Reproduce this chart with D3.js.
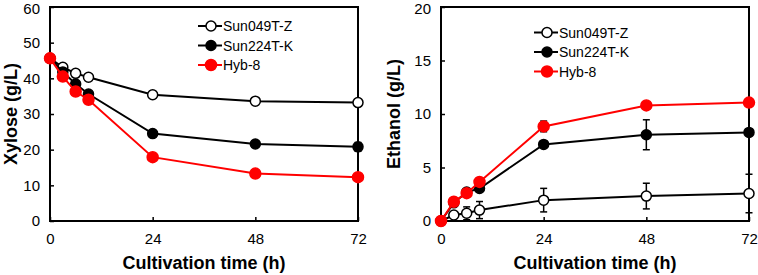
<!DOCTYPE html>
<html><head><meta charset="utf-8">
<script src="https://cdn.jsdelivr.net/npm/d3@7"></script>
<style>
html,body{margin:0;padding:0;background:#fff;}
svg{display:block;font-family:"Liberation Sans",Arial,sans-serif;}
</style></head>
<body><svg id="c" width="758" height="275"></svg>
<script>
const times = [0, 3, 6, 9, 24, 48, 72];
const seriesNames = ["Sun049T-Z", "Sun224T-K", "Hyb-8"];
const seriesColors = ["#000000", "#000000", "#ff0000"];
const seriesFills = ["#ffffff", "#000000", "#ff0000"];

const xyloseSun049 = [45.6, 43.1, 41.4, 40.3, 35.4, 33.6, 33.2];
const xyloseSun049Err = [0.3, 0.3, 0.8, 0.4, 1.0, 0.4, 0.4];
const xyloseSun224 = [45.6, 41.8, 38.4, 35.6, 24.5, 21.6, 20.8];
const xyloseSun224Err = [0.3, 0.3, 0.4, 0.5, 0.8, 0.8, 1.2];
const xyloseHyb8 = [45.6, 40.5, 36.3, 34.0, 17.9, 13.3, 12.3];
const xyloseHyb8Err = [0.3, 0.3, 0.3, 0.4, 0.3, 0.4, 0.3];

const ethanolSun049 = [0, 0.56, 0.72, 1.02, 1.95, 2.33, 2.57];
const ethanolSun049Err = [0, 0.1, 0.6, 0.8, 1.1, 1.2, 1.8];
const ethanolSun224 = [0, 1.7, 2.7, 3.04, 7.16, 8.06, 8.28];
const ethanolSun224Err = [0, 0.1, 0.3, 0.2, 0.2, 1.4, 0.3];
const ethanolHyb8 = [0, 1.8, 2.6, 3.65, 8.84, 10.8, 11.07];
const ethanolHyb8Err = [0, 0.1, 0.3, 0.2, 0.5, 0.2, 0.35];

const xTicks = [0, 24, 48, 72];
const xyloseTicks = [0, 10, 20, 30, 40, 50, 60];
const ethanolTicks = [0, 5, 10, 15, 20];

const svg = d3.select("#c");

function panel(opts) {
  const g = svg.append("g");
  const x = d3.scaleLinear().domain([0, 72]).range([opts.x0, opts.x1]);
  const y = d3.scaleLinear().domain([0, opts.ymax]).range([opts.yb, opts.yt]);

  g.append("rect").attr("x", opts.x0).attr("y", opts.yt)
    .attr("width", opts.x1 - opts.x0).attr("height", opts.yb - opts.yt)
    .attr("fill", "none").attr("stroke", "#000").attr("stroke-width", 2);

  const ya = g.append("g").attr("transform", `translate(${opts.x0},0)`)
    .call(d3.axisLeft(y).tickValues(opts.yTicks).tickSize(-4).tickPadding(10).tickFormat(d3.format("d")));
  ya.select(".domain").remove();
  ya.selectAll("line").attr("stroke", "#000").attr("stroke-width", 1.5);
  ya.selectAll("text").attr("font-size", 15).attr("fill", "#000").attr("font-family", "Liberation Sans, Arial, sans-serif");
  ya.selectAll(".tick").filter(d => d === opts.ymax).select("text").attr("dy", "0.45em");

  const xa = g.append("g").attr("transform", `translate(0,${opts.yb})`)
    .call(d3.axisBottom(x).tickValues(xTicks).tickSize(-4).tickPadding(12).tickFormat(d3.format("d")));
  xa.select(".domain").remove();
  xa.selectAll("line").attr("stroke", "#000").attr("stroke-width", 1.5);
  xa.selectAll("text").attr("font-size", 15).attr("fill", "#000").attr("font-family", "Liberation Sans, Arial, sans-serif");

  g.append("text").attr("x", (opts.x0 + opts.x1) / 2).attr("y", 269)
    .attr("text-anchor", "middle").attr("font-size", 18).attr("font-weight", "bold")
    .text("Cultivation time (h)");
  g.append("text")
    .attr("transform", `translate(${opts.ytx},${(opts.yt + opts.yb) / 2}) rotate(-90)`)
    .attr("text-anchor", "middle").attr("font-size", 18).attr("font-weight", "bold")
    .text(opts.ytitle);

  const line = d3.line().x((d, i) => x(times[i])).y(d => y(d));

  opts.series.forEach((s, k) => {
    const sg = g.append("g");
    s.v.forEach((v, i) => {
      const e = s.e[i];
      if (e <= 0) return;
      const cx = x(times[i]);
      sg.append("line").attr("x1", cx).attr("x2", cx).attr("y1", y(v - e)).attr("y2", y(v + e))
        .attr("stroke", "#000").attr("stroke-width", 1.5);
      [v - e, v + e].forEach(w => {
        sg.append("line").attr("x1", cx - 3.5).attr("x2", cx + 3.5).attr("y1", y(w)).attr("y2", y(w))
          .attr("stroke", "#000").attr("stroke-width", 1.5);
      });
    });
    sg.append("path").attr("d", line(s.v)).attr("fill", "none")
      .attr("stroke", seriesColors[k]).attr("stroke-width", 2);
    sg.selectAll("circle").data(s.v).enter().append("circle")
      .attr("cx", (d, i) => x(times[i])).attr("cy", d => y(d))
      .attr("r", k === 2 ? 5.5 : 5)
      .attr("fill", seriesFills[k]).attr("stroke", seriesColors[k]).attr("stroke-width", 1.5);
  });

  seriesNames.forEach((n, k) => {
    const ly = opts.ly + k * opts.lstep;
    g.append("line").attr("x1", opts.lx).attr("x2", opts.lx + 24).attr("y1", ly).attr("y2", ly)
      .attr("stroke", seriesColors[k]).attr("stroke-width", 2);
    g.append("circle").attr("cx", opts.lx + 13).attr("cy", ly).attr("r", k === 2 ? 5.5 : 5)
      .attr("fill", seriesFills[k]).attr("stroke", seriesColors[k]).attr("stroke-width", 1.5);
    g.append("text").attr("x", opts.lx + 25).attr("y", ly + 5).attr("font-size", 14).text(n);
  });
}

panel({
  x0: 50, x1: 358, yt: 7, yb: 221, ymax: 60, yTicks: xyloseTicks, ytx: 17,
  ytitle: "Xylose (g/L)", lx: 198, ly: 26, lstep: 19.5,
  series: [
    {v: xyloseSun049, e: xyloseSun049Err},
    {v: xyloseSun224, e: xyloseSun224Err},
    {v: xyloseHyb8, e: xyloseHyb8Err}
  ]
});

panel({
  x0: 441, x1: 749, yt: 7, yb: 221, ymax: 20, yTicks: ethanolTicks, ytx: 400,
  ytitle: "Ethanol (g/L)", lx: 534, ly: 32.5, lstep: 19.5,
  series: [
    {v: ethanolSun049, e: ethanolSun049Err},
    {v: ethanolSun224, e: ethanolSun224Err},
    {v: ethanolHyb8, e: ethanolHyb8Err}
  ]
});
</script></body></html>
